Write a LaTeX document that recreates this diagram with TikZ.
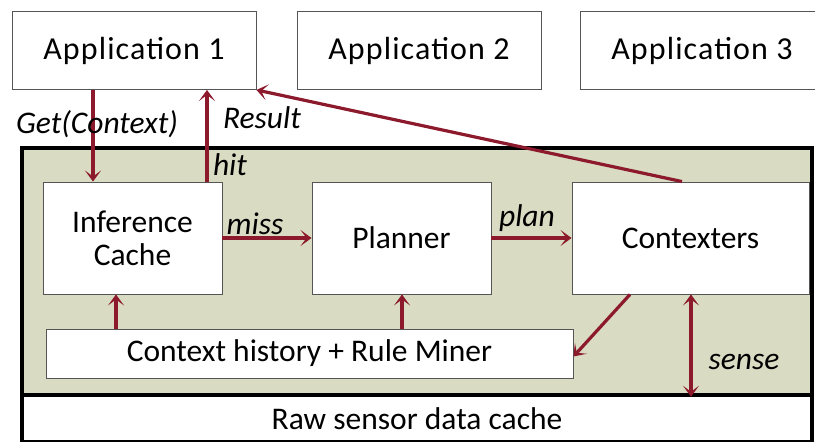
\documentclass[tikz,border=0pt]{standalone}
\usepackage{fontspec}
\setmainfont{Carlito}
\usetikzlibrary{arrows.meta}
\definecolor{arrred}{HTML}{8C1A2C}
\definecolor{panelfill}{HTML}{D9DCC3}
\definecolor{boxedge}{HTML}{555555}
\tikzset{
  box/.style={draw=boxedge, line width=0.9pt, fill=white, inner sep=0pt, align=center,
    font=\fontsize{31.5}{35}\selectfont},
  appbox/.style={box, minimum height=78pt, font=\fontsize{32}{35}\selectfont\addfontfeature{LetterSpace=3.5}},
  lbl/.style={inner sep=0pt, font=\fontsize{31.5}{35}\selectfont\itshape},
  tip/.tip={Stealth[length=11pt,width=16pt,inset=6pt]},
  arr/.style={draw=arrred, line width=3.2pt, -tip},
  darr/.style={draw=arrred, line width=3.2pt, tip-tip}
}
\begin{document}
\begin{tikzpicture}[x=1pt,y=-1pt]
\useasboundingbox (0,0) rectangle (815,442);
\fill[white] (0,0) rectangle (815,442);
% applications
\node[appbox, minimum width=244pt] (app1) at (134,50.5) {Application 1};
\node[appbox, minimum width=244pt] (app2) at (419,50.5) {Application 2};
\node[appbox, minimum width=244pt] (app3) at (702,50.5) {Application 3};
% panel and raw cache
\node[draw=black, line width=3.5pt, fill=panelfill, minimum width=790pt, minimum height=247pt, inner sep=0pt] (panel) at (417,271.5) {};
\node[draw=black, line width=3.5pt, fill=white, minimum width=790pt, minimum height=47pt, inner sep=0pt, font=\fontsize{31.5}{35}\selectfont] (raw) at (417,418.5) {Raw sensor data cache};
% inner boxes
\node[box, minimum width=179pt, minimum height=112pt] (ic) at (132.5,238) {Inference\\[-2pt]Cache};
\node[box, minimum width=179pt, minimum height=112pt] (planner) at (401.5,238) {Planner};
\node[box, minimum width=237pt, minimum height=112pt] (ctx) at (690.5,238) {Contexters};
\node[box, minimum width=527pt, minimum height=49pt] (ch) at (309.5,353.5) {Context history + Rule Miner};
% helper coordinates
\coordinate (getx) at (93,0);
\coordinate (hitx) at (207,0);
\coordinate (resx) at (682,0);
\coordinate (upa) at (116,0);
\coordinate (upb) at (402,0);
\coordinate (dgx) at (630,0);
\coordinate (snx) at (691,0);
% connectors
\draw[arr] (app1.south -| getx) -- (ic.north -| getx);
\draw[arr] (ic.north -| hitx) -- (app1.south -| hitx);
\draw[arr] (ctx.north -| resx) -- (app1.south east);
\draw[arr] (ic.east) -- (planner.west);
\draw[arr] (planner.east) -- (ctx.west);
\draw[arr] (ch.north -| upa) -- (ic.south -| upa);
\draw[arr] (ch.north -| upb) -- (planner.south -| upb);
\draw[arr] (ctx.south -| dgx) -- ([yshift=-3pt]ch.east);
\draw[darr] (ctx.south -| snx) -- (panel.south -| snx);
% labels
\node[lbl] (lget) at (97,124) {Get(Context)};
\node[lbl] (lres) at (262,118) {Result};
\node[lbl] (lhit) at (230,165) {hit};
\node[lbl] (lmiss) at (255,224) {miss};
\node[lbl] (lplan) at (527,218) {plan};
\node[lbl] (lsense) at (744,362) {sense};
\end{tikzpicture}
\end{document}
